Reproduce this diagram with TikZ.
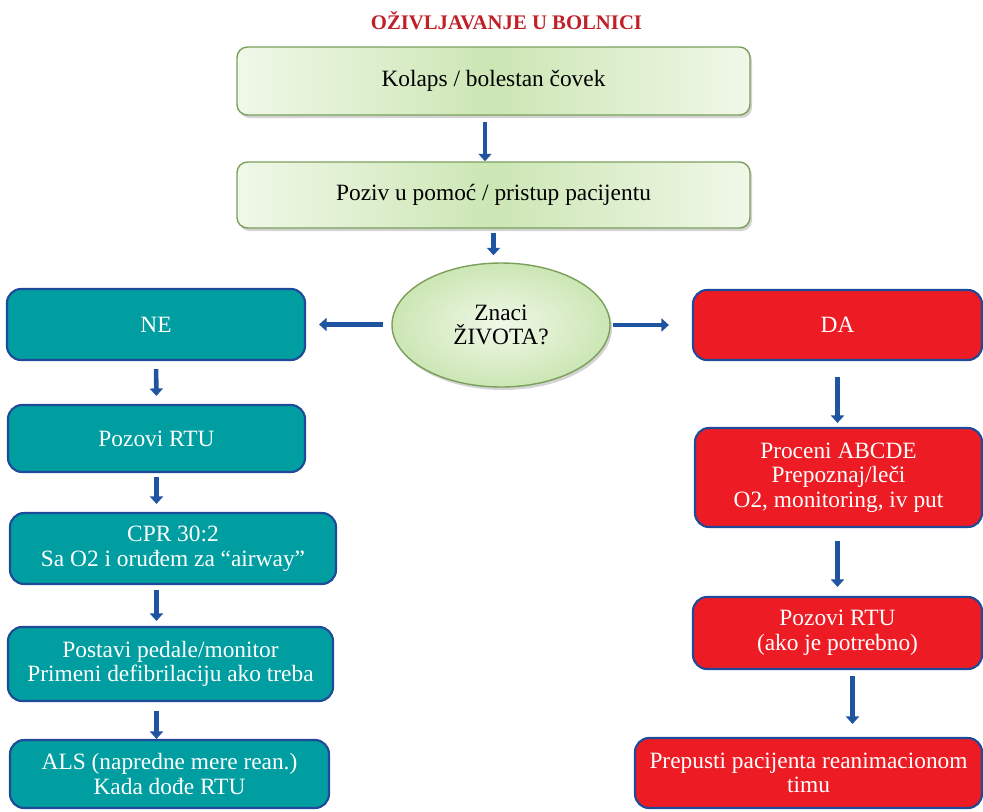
\documentclass[tikz,border=0pt]{standalone}
\usepackage{fontspec}
\setmainfont{Liberation Serif}
\definecolor{titlered}{RGB}{192,32,40}
\definecolor{framegreen}{RGB}{122,160,92}
\definecolor{lightgreen}{RGB}{240,248,232}
\definecolor{midgreen}{RGB}{204,230,180}
\definecolor{tealfill}{RGB}{0,158,160}
\definecolor{redfill}{RGB}{237,28,36}
\definecolor{edgeblue}{RGB}{31,73,153}
\definecolor{arrowblue}{RGB}{31,84,160}
\usetikzlibrary{shapes.geometric, arrows.meta, shadows}
\tikzset{
  greenbox/.style={rectangle, rounded corners=6pt,
    draw=framegreen, line width=0.8pt,
    left color=lightgreen, right color=lightgreen, middle color=midgreen,
    drop shadow={shadow xshift=0.04cm, shadow yshift=-0.06cm, opacity=0.35},
    align=center, font=\fontsize{13.3}{14}\selectfont},
  decision/.style={ellipse, draw=framegreen, line width=0.8pt,
    inner color=lightgreen, outer color=midgreen,
    drop shadow={shadow xshift=0.04cm, shadow yshift=-0.06cm, opacity=0.35},
    minimum width=4.36cm, minimum height=2.48cm,
    align=center, font=\fontsize{13.3}{14}\selectfont},
  nebox/.style={rectangle, rounded corners=8pt,
    draw=edgeblue, fill=tealfill, line width=1.2pt, text=white,
    align=center, font=\fontsize{13.3}{14}\selectfont},
  dabox/.style={rectangle, rounded corners=8pt,
    draw=edgeblue, fill=redfill, line width=1.2pt, text=white,
    align=center, font=\fontsize{13.3}{14}\selectfont},
  arrow/.style={-{Triangle[width=0.26cm,length=0.15cm]}, line width=2.6pt,
    color=arrowblue, shorten <=0.12cm, shorten >=0.12cm},
}
\begin{document}
\begin{tikzpicture}
\useasboundingbox (0,0) rectangle (19.66,-16.22);

\node[font=\fontsize{11.8}{14}\selectfont\bfseries, text=titlered] (title) at (10.13,-0.42) {OŽIVLJAVANJE U BOLNICI};

\node[greenbox, minimum width=10.26cm, minimum height=1.36cm] (kolaps) at (9.87,-1.62) {Kolaps / bolestan čovek};
\node[greenbox, minimum width=10.26cm, minimum height=1.32cm] (poziv) at (9.87,-3.9) {Poziv u pomoć / pristup pacijentu};
\node[decision] (znaci) at (10.02,-6.5) {Znaci\\ŽIVOTA?};

% levo: nema znakova zivota
\node[nebox, minimum width=5.96cm, minimum height=1.42cm] (ne) at (3.12,-6.49) {NE};
\node[nebox, minimum width=5.94cm, minimum height=1.34cm] (rtu) at (3.13,-8.77) {Pozovi RTU};
\node[nebox, minimum width=6.52cm, minimum height=1.42cm] (cpr) at (3.46,-10.97) {CPR 30:2\\Sa O2 i oruđem za “airway”};
\node[nebox, minimum width=6.5cm, minimum height=1.48cm] (pedale) at (3.41,-13.28) {Postavi pedale/monitor\\Primeni defibrilaciju ako treba};
\node[nebox, minimum width=6.38cm, minimum height=1.36cm] (als) at (3.39,-15.48) {ALS (napredne mere rean.)\\Kada dođe RTU};

% desno: ima znakova zivota
\node[dabox, minimum width=5.78cm, minimum height=1.4cm] (da) at (16.75,-6.5) {DA};
\node[dabox, minimum width=5.74cm, minimum height=1.98cm] (abcde) at (16.77,-9.55) {Proceni ABCDE\\Prepoznaj/leči\\O2, monitoring, iv put};
\node[dabox, minimum width=5.78cm, minimum height=1.44cm] (rtuda) at (16.75,-12.66) {Pozovi RTU\\(ako je potrebno)};
\node[dabox, minimum width=6.94cm, minimum height=1.4cm] (tim) at (16.17,-15.46) {Prepusti pacijenta reanimacionom\\timu};

\draw[arrow, shorten >=0cm] ([xshift=-0.17cm]kolaps.south) -- ([xshift=-0.17cm]poziv.north);
\draw[arrow, shorten <=0.08cm, shorten >=0.14cm] (poziv.south) -- (poziv.south |- znaci.north);
\draw[arrow, shorten <=0.16cm, shorten >=0.26cm] (znaci.west |- ne.east) -- (ne.east);
\draw[arrow, shorten <=0.04cm, shorten >=0.46cm] (znaci.east |- da.west) -- (da.west);

\draw[arrow, shorten <=0.16cm, shorten >=0.16cm] (ne.south) -- (rtu.north);
\draw[arrow, shorten <=0.08cm, shorten >=0.16cm] (rtu.south) -- (rtu.south |- cpr.north);
\draw[arrow, shorten <=0.1cm, shorten >=0.1cm] (rtu.south |- cpr.south) -- (rtu.south |- pedale.north);
\draw[arrow, shorten <=0.18cm, shorten >=0cm] (rtu.south |- pedale.south) -- (rtu.south |- als.north);

\draw[arrow, shorten <=0.32cm, shorten >=0.08cm] (da.south) -- (da.south |- abcde.north);
\draw[arrow, shorten <=0.26cm, shorten >=0.18cm] (da.south |- abcde.south) -- (da.south |- rtuda.north);
\draw[arrow, shorten <=0.12cm, shorten >=0.26cm] ([xshift=0.3cm]rtuda.south) -- ([xshift=0.3cm]rtuda.south |- tim.north);
\end{tikzpicture}
\end{document}
